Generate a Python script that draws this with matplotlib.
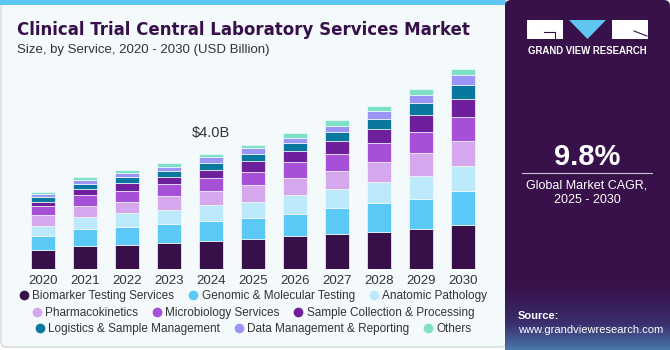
import numpy as np
import matplotlib.pyplot as plt
from matplotlib.colors import LinearSegmentedColormap
from matplotlib.patches import FancyBboxPatch, Rectangle, Polygon
from matplotlib.lines import Line2D

plt.rcParams['font.family'] = ['Liberation Sans', 'DejaVu Sans']

# market size by service, USD billion
years = ['2020', '2021', '2022', '2023', '2024', '2025', '2026', '2027', '2028', '2029', '2030']
biomarker = [0.67, 0.81, 0.85, 0.90, 0.96, 1.04, 1.14, 1.22, 1.30, 1.38, 1.53]
genomic = [0.49, 0.58, 0.62, 0.65, 0.70, 0.72, 0.79, 0.91, 0.98, 1.04, 1.17]
anatomic = [0.35, 0.41, 0.48, 0.50, 0.55, 0.58, 0.64, 0.66, 0.74, 0.81, 0.89]
pharmacokinetics = [0.36, 0.39, 0.39, 0.48, 0.49, 0.57, 0.59, 0.63, 0.71, 0.81, 0.86]
microbiology = [0.31, 0.37, 0.36, 0.41, 0.46, 0.48, 0.55, 0.59, 0.64, 0.74, 0.82]
sample_collection = [0.14, 0.22, 0.28, 0.27, 0.30, 0.35, 0.39, 0.45, 0.49, 0.57, 0.64]
logistics = [0.18, 0.18, 0.22, 0.20, 0.22, 0.25, 0.28, 0.31, 0.36, 0.42, 0.48]
data_mgmt = [0.10, 0.15, 0.14, 0.15, 0.20, 0.21, 0.18, 0.22, 0.28, 0.27, 0.35]
others = [0.07, 0.08, 0.09, 0.14, 0.13, 0.13, 0.17, 0.20, 0.18, 0.23, 0.23]

labels = ['Biomarker Testing Services', 'Genomic & Molecular Testing', 'Anatomic Pathology',
          'Pharmacokinetics', 'Microbiology Services', 'Sample Collection & Processing',
          'Logistics & Sample Management', 'Data Management & Reporting', 'Others']
series = [biomarker, genomic, anatomic, pharmacokinetics, microbiology,
          sample_collection, logistics, data_mgmt, others]
colors = ['#37104a', '#5bc9f5', '#bdeafa', '#d5a8ee', '#a650d8',
          '#6e209c', '#0a779f', '#9c95f8', '#7ee0c9']

W, H = 670, 350
fig = plt.figure(figsize=(6.7, 3.5), dpi=100)
fig.patch.set_facecolor('white')

# decoration layer in pixel coordinates
deco = fig.add_axes([0, 0, 1, 1], zorder=0)
deco.set_xlim(0, W)
deco.set_ylim(H, 0)
deco.axis('off')

deco.add_patch(FancyBboxPatch((1, 3), 505, 344, boxstyle='round,pad=0,rounding_size=5',
                              fc='#f4f9fc', ec='#d4d8dc', lw=1))
deco.add_patch(Rectangle((0, 0), 506, 5, fc='#5ec6f0', ec='none'))
deco.add_patch(FancyBboxPatch((505, 0), 165, 350, boxstyle='round,pad=0,rounding_size=6',
                              fc='#38114a', ec='none'))

# bottom gradient of the side panel (dark at top, bluish at the bottom)
grad = np.linspace(0, 1, 100).reshape(-1, 1) ** 1.6
cmap = LinearSegmentedColormap.from_list('g', ['#38114a', '#3a2f6e', '#4a78aa'])
deco.imshow(grad, extent=(505, 670, 275, 350), cmap=cmap, aspect='auto', zorder=1,
            origin='lower')

# logo
deco.add_patch(Rectangle((527, 20), 36, 19, fc='white', ec='none', zorder=2))
deco.add_patch(Rectangle((612, 20), 36, 19, fc='white', ec='none', zorder=2))
deco.add_patch(Polygon([(569, 20), (606, 20), (587.5, 39)], fc='#5ec6f0', ec='none', zorder=2))
deco.plot([544, 555, 555], [32, 32, 39], color='#38114a', lw=0.8, zorder=3)
deco.plot([634, 647], [31, 36], color='#38114a', lw=0.8, zorder=3)
deco.text(587.5, 51, 'GRAND VIEW RESEARCH', color='white', fontsize=6.9, fontweight='bold',
          ha='center', va='center', zorder=3)

deco.text(587, 157, '9.8%', color='white', fontsize=21, fontweight='bold',
          ha='center', va='center', zorder=3)
deco.plot([522, 652], [173, 173], color='#c8c0d0', lw=0.8, zorder=3)
deco.text(587, 193, 'Global Market CAGR,\n2025 - 2030', color='white', fontsize=9,
          ha='center', va='center', linespacing=1.3, zorder=3)
deco.text(518, 316, 'Source:', color='white', fontsize=8, fontweight='bold',
          ha='left', va='center', zorder=3)
deco.text(518, 330, 'www.grandviewresearch.com', color='white', fontsize=8,
          ha='left', va='center', zorder=3)

deco.text(17, 35, 'Clinical Trial Central Laboratory Services Market', color='#37104a',
          fontsize=12, fontweight='bold', family='DejaVu Sans', ha='left', va='baseline')
deco.text(17, 53, 'Size, by Service, 2020 - 2030 (USD Billion)', color='#333333',
          fontsize=9.5, ha='left', va='baseline')

# main bar chart
ax = fig.add_axes([22 / W, 81 / H, 462 / W, 220 / H], zorder=1)
ax.patch.set_alpha(0)
x = np.arange(len(years))
bottom = np.zeros(len(years))
for vals, col in zip(series, colors):
    ax.bar(x, vals, width=0.57, bottom=bottom, color=col, edgecolor='#f4f9fc', linewidth=0.5)
    bottom += np.array(vals)

ax.set_xlim(-0.5, len(years) - 0.5)
ax.set_ylim(0, 220 * 4.0 / 115)
ax.set_xticks(x)
ax.set_xticklabels(years, fontsize=9.5, color='#333333')
ax.tick_params(axis='x', length=0, pad=4)
ax.set_yticks([])
for s in ax.spines.values():
    s.set_visible(False)

ax.annotate('$4.0B', (x[4], bottom[4]), xytext=(0, 10), textcoords='offset points',
            ha='center', va='bottom', fontsize=10.5, color='#333333')

# legend, three centred rows
rows = [[0, 1, 2], [3, 4, 5], [6, 7, 8]]
row_y = [296, 313, 329]
for r, yy in zip(rows, row_y):
    handles = [Line2D([], [], marker='o', ls='none', ms=7, mfc=colors[i], mec='none') for i in r]
    fig.legend(handles, [labels[i] for i in r], ncol=3, loc='center',
               bbox_to_anchor=(252 / W, 1 - yy / H), frameon=False, fontsize=8.5,
               handletextpad=0.1, columnspacing=1.0, handlelength=1.2,
               labelcolor='#333333', borderaxespad=0, borderpad=0)

fig.savefig('out.png', dpi=100, facecolor=fig.get_facecolor())
